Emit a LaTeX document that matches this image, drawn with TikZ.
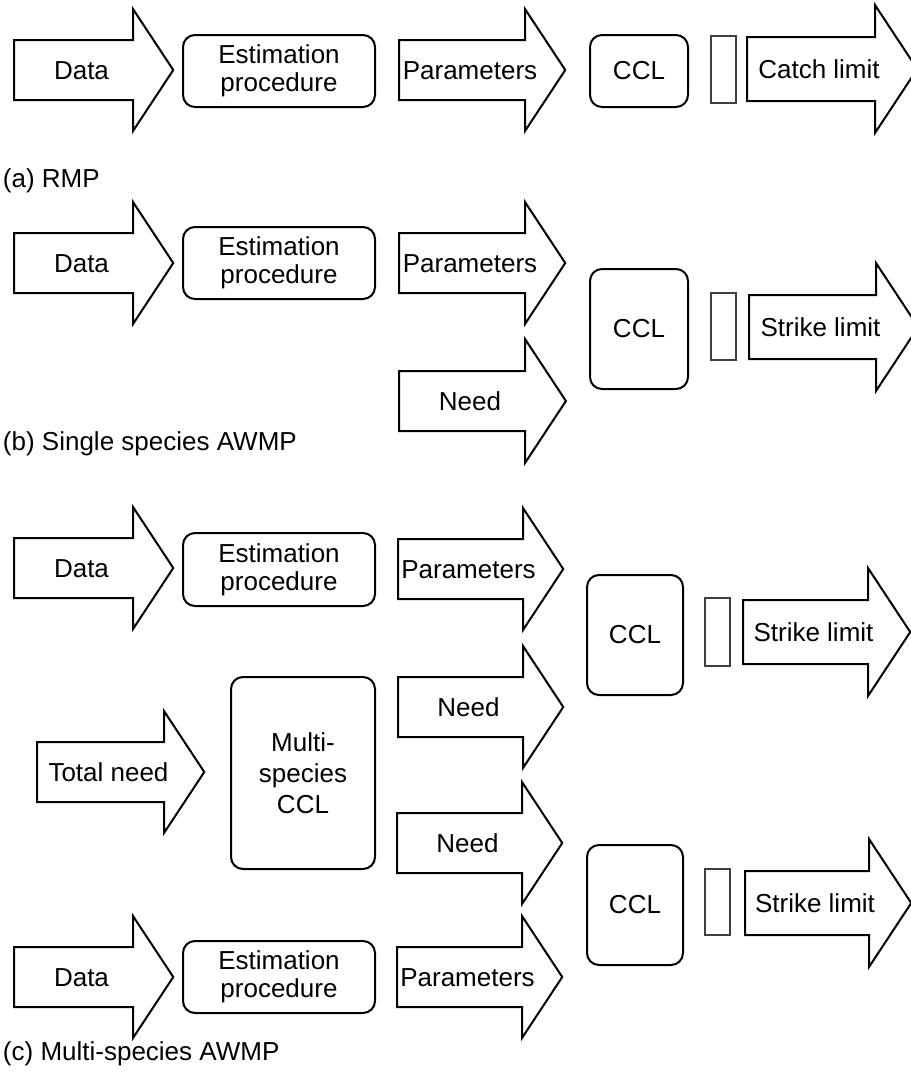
\documentclass[tikz,border=0pt]{standalone}
\usepackage{fontspec}
\setmainfont{Liberation Sans}

% block arrow: name, tail x, head base x, mid y, half shaft, half head, text
\newcommand{\blockarrow}[7]{%
  \draw (#2,#4-#5) -- (#3,#4-#5) -- (#3,#4-#6) -- (#3+0.66*#6,#4)
        -- (#3,#4+#6) -- (#3,#4+#5) -- (#2,#4+#5) -- cycle;
  \node[arrowtext] (#1) at (#2/2+#3/2+8,#4) {#7};}

\begin{document}
\begin{tikzpicture}[x=0.5pt,y=-0.5pt,line width=1pt,
    arrowtext/.style={inner sep=0pt,text height=9.3pt,text depth=0pt,
      font=\fontsize{13}{14}\selectfont},
    procbox/.style={draw,rounded corners=6pt,align=center,inner sep=0pt,
      font=\fontsize{13}{13.9}\selectfont},
    gatebox/.style={draw=black!75,line width=0.6pt,inner sep=0pt,minimum width=12.5pt},
    caption/.style={anchor=base west,inner sep=0pt,font=\fontsize{13}{14}\selectfont}]
\useasboundingbox (0,0) rectangle (911,1084);

% (a) RMP
\blockarrow{dataA}{14}{133}{70}{30}{61}{Data}
\node[procbox,minimum width=96pt,minimum height=36pt] (estA) at (279,71) {Estimation\\procedure};
\blockarrow{parA}{399}{525}{70}{30}{61}{Parameters}
\node[procbox,minimum width=49pt,minimum height=36pt] (cclA) at (639,71) {CCL};
\node[gatebox,minimum height=33.5pt] (gateA) at (723.5,69.5) {};
\blockarrow{limA}{747}{875}{69}{32}{64}{Catch limit}
\node[caption] (capA) at (2,187) {(a) RMP};

% (b) single species
\blockarrow{dataB}{14}{133}{263}{30}{61}{Data}
\node[procbox,minimum width=96pt,minimum height=36pt] (estB) at (279,263) {Estimation\\procedure};
\blockarrow{parB}{399}{525}{263}{30}{61}{Parameters}
\blockarrow{needB}{399}{525}{401}{30}{62}{Need}
\node[procbox,minimum width=49pt,minimum height=60pt] (cclB) at (639,329) {CCL};
\node[gatebox,minimum height=33.5pt] (gateB) at (723.5,326.5) {};
\blockarrow{limB}{749}{876}{327}{32}{64}{Strike limit}
\node[caption] (capB) at (2,450) {(b) Single species AWMP};

% (c) multi-species
\blockarrow{dataC}{14}{133}{568}{30}{61}{Data}
\node[procbox,minimum width=96pt,minimum height=36.5pt] (estC) at (279,569.5) {Estimation\\procedure};
\blockarrow{parC}{398}{523}{569}{30}{61}{Parameters}
\blockarrow{needC}{398}{523}{707}{30}{61}{Need}
\node[procbox,minimum width=48pt,minimum height=60pt] (cclC) at (635,635) {CCL};
\node[gatebox,minimum height=34pt] (gateC) at (717.5,632) {};
\blockarrow{limC}{743}{868}{632}{32}{64}{Strike limit}

\blockarrow{totneed}{37}{164}{772}{30}{61}{Total need}
\node[procbox,minimum width=72pt,minimum height=96pt,
  font=\fontsize{13}{15.5}\selectfont] (mccl) at (303,773) {Multi-\\species\\CCL};

\blockarrow{needD}{397}{522}{843}{30}{61}{Need}
\node[procbox,minimum width=48pt,minimum height=60pt] (cclD) at (635,905) {CCL};
\node[gatebox,minimum height=33pt] (gateD) at (717.5,902) {};
\blockarrow{limD}{745}{869}{903}{32}{64}{Strike limit}

\blockarrow{dataD}{14}{133}{977}{30}{61}{Data}
\node[procbox,minimum width=96pt,minimum height=36pt] (estD) at (279,977) {Estimation\\procedure};
\blockarrow{parD}{397}{522}{977}{30}{61}{Parameters}
\node[caption] (capC) at (2,1060) {(c) Multi-species AWMP};
\end{tikzpicture}
\end{document}
